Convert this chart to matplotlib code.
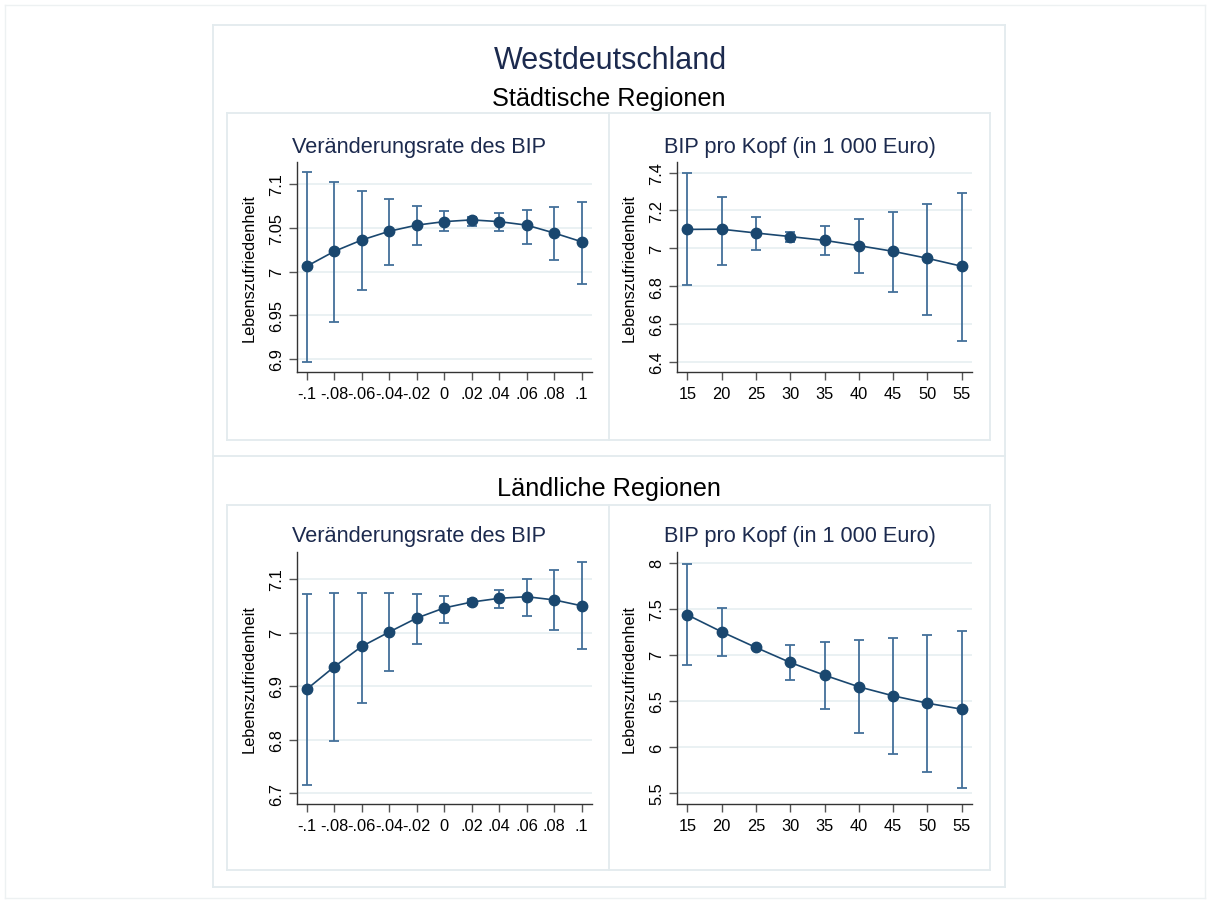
import matplotlib
matplotlib.use("Agg")
import matplotlib.pyplot as plt
from matplotlib.lines import Line2D
import numpy as np

# ---------------- data ----------------
x_rate = [-0.1, -0.08, -0.06, -0.04, -0.02, 0.0, 0.02, 0.04, 0.06, 0.08, 0.1]
x_rate_labels = ["-.1", "-.08", "-.06", "-.04", "-.02", "0", ".02", ".04", ".06", ".08", ".1"]
x_kopf = [15, 20, 25, 30, 35, 40, 45, 50, 55]
x_kopf_labels = ["15", "20", "25", "30", "35", "40", "45", "50", "55"]

st_rate_mean = [7.006, 7.023, 7.036, 7.046, 7.053, 7.057, 7.059, 7.057, 7.053, 7.044, 7.034]
st_rate_hi = [7.1135, 7.102, 7.092, 7.083, 7.075, 7.069, 7.062, 7.067, 7.070, 7.074, 7.079]
st_rate_lo = [6.897, 6.942, 6.979, 7.008, 7.030, 7.046, 7.052, 7.046, 7.032, 7.013, 6.986]

st_kopf_mean = [7.100, 7.101, 7.081, 7.062, 7.042, 7.014, 6.984, 6.947, 6.905]
st_kopf_hi = [7.400, 7.273, 7.166, 7.087, 7.116, 7.155, 7.194, 7.236, 7.291]
st_kopf_lo = [6.806, 6.912, 6.993, 7.035, 6.963, 6.870, 6.767, 6.649, 6.510]

la_rate_mean = [6.894, 6.936, 6.974, 7.001, 7.027, 7.046, 7.057, 7.064, 7.067, 7.061, 7.050]
la_rate_hi = [7.072, 7.074, 7.074, 7.074, 7.072, 7.069, 7.062, 7.080, 7.100, 7.116, 7.131]
la_rate_lo = [6.715, 6.798, 6.869, 6.928, 6.978, 7.018, 7.052, 7.046, 7.031, 7.005, 6.970]

la_kopf_mean = [7.434, 7.250, 7.080, 6.917, 6.779, 6.653, 6.555, 6.475, 6.410]
la_kopf_hi = [7.984, 7.507, 7.100, 7.105, 7.137, 7.156, 7.184, 7.210, 7.261]
la_kopf_lo = [6.891, 6.982, 7.060, 6.725, 6.414, 6.154, 5.925, 5.733, 5.552]

st_rate_yticks = [6.9, 6.95, 7.0, 7.05, 7.1]
st_rate_ylabels = ["6.9", "6.95", "7", "7.05", "7.1"]
st_kopf_yticks = [6.4, 6.6, 6.8, 7.0, 7.2, 7.4]
st_kopf_ylabels = ["6.4", "6.6", "6.8", "7", "7.2", "7.4"]
la_rate_yticks = [6.7, 6.8, 6.9, 7.0, 7.1]
la_rate_ylabels = ["6.7", "6.8", "6.9", "7", "7.1"]
la_kopf_yticks = [5.5, 6.0, 6.5, 7.0, 7.5, 8.0]
la_kopf_ylabels = ["5.5", "6", "6.5", "7", "7.5", "8"]

main_title = "Westdeutschland"
section_titles = ["Städtische Regionen", "Ländliche Regionen"]
panel_titles = ["Veränderungsrate des BIP", "BIP pro Kopf (in 1 000 Euro)"]
ylabel = "Lebenszufriedenheit"

# ---------------- style ----------------
W, H = 1210, 904
DPI = 100
plt.rcParams['font.family'] = ['Liberation Sans', 'DejaVu Sans']

MARK = "#1a476f"
ERR = "#43709a"
GRID = "#e8f0f2"
BOX = "#e3ebee"
NAVY = "#1c2a4e"

fig = plt.figure(figsize=(W / DPI, H / DPI), dpi=DPI)
fig.patch.set_facecolor("white")


def fx(px):
    return px / W


def fy(py):
    return 1 - py / H


def hline(x0, x1, y, color=BOX, lw=1.3):
    fig.add_artist(Line2D([fx(x0), fx(x1)], [fy(y), fy(y)], color=color, lw=lw))


def vline(x, y0, y1, color=BOX, lw=1.3):
    fig.add_artist(Line2D([fx(x), fx(x)], [fy(y0), fy(y1)], color=color, lw=lw))


def rect(x0, y0, x1, y1, color=BOX, lw=1.3):
    hline(x0, x1, y0, color, lw)
    hline(x0, x1, y1, color, lw)
    vline(x0, y0, y1, color, lw)
    vline(x1, y0, y1, color, lw)


# frames
rect(5, 6, 1205, 899, color="#edf1f2", lw=1.0)
rect(212.7, 25.7, 1004.5, 887.5)
hline(212.7, 1004.5, 457.3)
rect(227.3, 114.3, 990, 441)
vline(609, 114.3, 441)
rect(227.3, 506, 990, 871)
vline(609, 506, 871)

# titles
fig.text(fx(610), fy(61), main_title, ha="center", va="center", fontsize=22, color=NAVY)
fig.text(fx(609), fy(99), section_titles[0], ha="center", va="center", fontsize=18.2, color="black")
fig.text(fx(609), fy(489), section_titles[1], ha="center", va="center", fontsize=18.2, color="black")
for cy in (148, 537):
    fig.text(fx(419), fy(cy), panel_titles[0], ha="center", va="center", fontsize=15.7, color=NAVY)
    fig.text(fx(800), fy(cy), panel_titles[1], ha="center", va="center", fontsize=15.7, color=NAVY)


def make_ax(left_px, top_px, right_px, bottom_px):
    return fig.add_axes([fx(left_px), fy(bottom_px), fx(right_px - left_px), (bottom_px - top_px) / H])


def draw(ax, x, mean, lo, hi, xticks, xlabels, yticks, ylabels, xlim, ylim):
    mean = np.asarray(mean)
    yerr = [mean - np.asarray(lo), np.asarray(hi) - mean]
    ax.errorbar(x, mean, yerr=yerr, fmt="none", ecolor=ERR, elinewidth=1.3,
                capsize=3.8, capthick=1.3, zorder=2)
    ax.plot(x, mean, "-", color=MARK, lw=1.2, zorder=3)
    ax.plot(x, mean, "o", color=MARK, ms=7.5, zorder=4)
    ax.set_xlim(*xlim)
    ax.set_ylim(*ylim)
    ax.set_xticks(xticks)
    ax.set_xticklabels(xlabels)
    ax.set_yticks(yticks)
    ax.set_yticklabels(ylabels, rotation=90, va="center")
    for gy in yticks:
        ax.axhline(gy, color=GRID, lw=1.3, zorder=1)
    for s in ("top", "right"):
        ax.spines[s].set_visible(False)
    for s in ("left", "bottom"):
        ax.spines[s].set_color("#333333")
        ax.spines[s].set_linewidth(1.0)
    ax.tick_params(axis="both", direction="out", length=6, width=1.0, color="#555555",
                   labelsize=11.8, labelcolor="black")
    ax.tick_params(axis="x", pad=4)
    ax.tick_params(axis="y", pad=3)
    ax.set_ylabel(ylabel, fontsize=11.8, color="black")
    ax.yaxis.set_label_coords(-0.135, 0.5)
    ax.set_facecolor("white")


ax1 = make_ax(296.7, 163.3, 591.7, 372.7)
draw(ax1, x_rate, st_rate_mean, st_rate_lo, st_rate_hi, x_rate, x_rate_labels,
     st_rate_yticks, st_rate_ylabels, (-0.1073, 0.1073), (6.8855, 7.1248))

ax2 = make_ax(676.7, 163.3, 971.7, 372.7)
draw(ax2, x_kopf, st_kopf_mean, st_kopf_lo, st_kopf_hi, x_kopf, x_kopf_labels,
     st_kopf_yticks, st_kopf_ylabels, (13.45, 56.46), (6.347, 7.455))

ax3 = make_ax(296.7, 553.3, 591.7, 804.7)
draw(ax3, x_rate, la_rate_mean, la_rate_lo, la_rate_hi, x_rate, x_rate_labels,
     la_rate_yticks, la_rate_ylabels, (-0.1073, 0.1073), (6.68, 7.150))

ax4 = make_ax(676.7, 553.3, 971.7, 804.7)
draw(ax4, x_kopf, la_kopf_mean, la_kopf_lo, la_kopf_hi, x_kopf, x_kopf_labels,
     la_kopf_yticks, la_kopf_ylabels, (13.45, 56.46), (5.384, 8.113))

fig.savefig("out.png", dpi=DPI, facecolor="white")
